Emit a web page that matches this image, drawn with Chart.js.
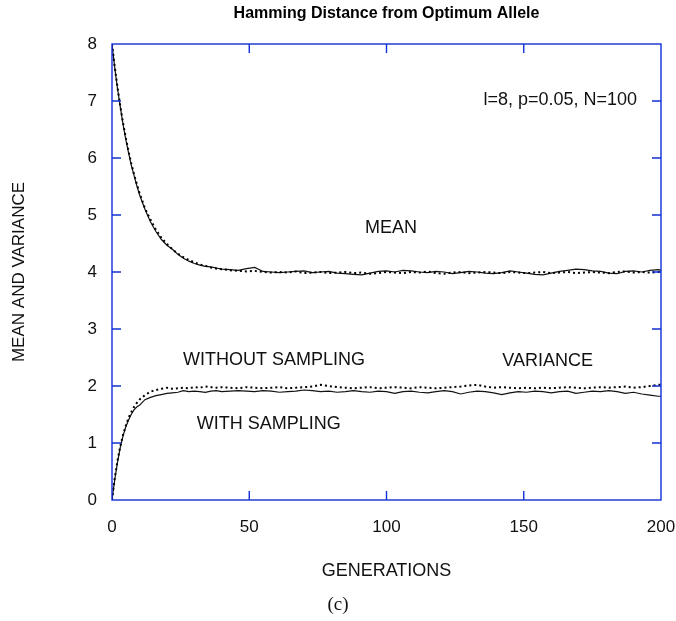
<!DOCTYPE html>
<html>
<head>
<meta charset="utf-8">
<script src="https://cdn.jsdelivr.net/npm/chart.js@4.4.1/dist/chart.umd.min.js"></script>
<style>
  html, body { margin: 0; padding: 0; background: #fff; }
</style>
</head>
<body>
<canvas id="myChart" width="676" height="621"></canvas>
<script>
// generations (x values), denser at the start where the curves move fast
const generations = [0,1,2,3,4,5,6,7,8,9,10,12,14,16,18,20,22,24,26,28,30,32,34,36,38,40,
  43,46,49,52,55,58,61,64,67,70,73,76,79,82,85,88,91,94,97,100,103,106,109,112,115,118,121,124,
  127,130,133,136,139,142,145,148,151,154,157,160,163,166,169,172,175,178,181,184,187,190,193,196,199,200];

// mean, without sampling (dotted)
const meanNoSampling = [8.00,7.60,7.24,6.92,6.62,6.36,6.12,5.91,5.72,5.55,5.39,5.12,4.92,4.74,4.60,4.49,4.40,4.32,4.26,4.21,4.17,4.13,4.11,4.08,4.06,4.05,
  4.03,4.02,4.01,4.02,4.00,3.99,4.00,3.99,4.01,3.98,3.99,4.00,3.98,3.99,4.00,3.98,3.99,3.97,3.98,4.00,3.99,3.98,4.00,3.99,4.01,3.98,3.97,3.99,
  4.00,3.98,3.99,4.00,3.99,3.98,4.00,3.99,3.98,3.99,4.00,3.98,3.99,4.00,3.98,3.99,4.00,3.99,3.98,4.00,4.01,3.99,4.00,3.99,4.00,4.00];

// mean, with sampling (solid)
const meanSampling = [8.00,7.58,7.22,6.90,6.60,6.33,6.10,5.88,5.70,5.52,5.36,5.10,4.88,4.71,4.57,4.47,4.40,4.31,4.24,4.19,4.15,4.12,4.10,4.09,4.07,4.05,
  4.04,4.03,4.06,4.08,4.01,4.00,3.99,4.00,4.01,4.02,3.99,4.00,4.01,3.98,3.97,3.96,3.95,3.98,4.01,4.02,4.00,4.03,4.02,4.00,3.99,4.01,4.00,3.97,
  3.99,4.01,4.00,3.98,3.97,3.99,4.02,4.00,3.98,3.96,3.95,3.98,4.01,4.03,4.05,4.04,4.02,4.01,3.98,3.97,4.01,4.02,4.00,4.03,4.04,4.03];

// variance, without sampling (dotted)
const varNoSampling = [0.00,0.38,0.69,0.94,1.14,1.30,1.44,1.54,1.63,1.70,1.76,1.84,1.90,1.93,1.95,1.97,1.95,1.96,1.97,1.96,1.98,1.97,1.99,1.98,1.97,1.98,
  1.97,1.96,1.98,1.97,1.96,1.97,1.98,1.96,1.97,1.98,1.99,2.02,2.00,1.98,1.97,1.96,1.97,1.98,1.96,1.97,1.98,1.97,1.96,1.98,1.97,1.96,1.97,1.98,
  1.99,2.01,2.02,1.99,1.97,1.98,1.97,1.96,1.97,1.96,1.97,1.96,1.97,1.98,1.97,1.96,1.97,1.98,1.97,1.98,1.99,1.97,1.98,2.00,2.02,2.02];

// variance, with sampling (solid)
const varSampling = [0.00,0.36,0.66,0.92,1.12,1.28,1.40,1.50,1.58,1.63,1.66,1.76,1.80,1.83,1.85,1.87,1.88,1.89,1.92,1.90,1.91,1.90,1.89,1.91,1.92,1.90,
  1.91,1.92,1.91,1.90,1.92,1.91,1.89,1.90,1.91,1.93,1.92,1.90,1.91,1.89,1.90,1.92,1.90,1.89,1.91,1.90,1.87,1.90,1.91,1.89,1.88,1.90,1.92,1.90,
  1.86,1.89,1.91,1.90,1.88,1.85,1.88,1.90,1.89,1.91,1.90,1.88,1.90,1.91,1.87,1.89,1.91,1.90,1.92,1.90,1.87,1.89,1.86,1.84,1.82,1.82];

const xTicks = [0, 50, 100, 150, 200];
const yTicks = [0, 1, 2, 3, 4, 5, 6, 7, 8];

const sans = "'Liberation Sans', Arial, Helvetica, sans-serif";
const frameBlue = '#1230d4';

function toPoints(values) {
  return generations.map((g, i) => ({ x: g, y: values[i] }));
}

// text labels placed in data coordinates
const notes = [
  { text: 'l=8, p=0.05, N=100', x: 191.3, y: 7.02, align: 'right' },
  { text: 'MEAN', x: 101.6, y: 4.77, align: 'center' },
  { text: 'WITHOUT SAMPLING', x: 25.9, y: 2.45, align: 'left' },
  { text: 'VARIANCE', x: 158.7, y: 2.43, align: 'center' },
  { text: 'WITH SAMPLING', x: 57.1, y: 1.33, align: 'center' }
];

const frameAndNotes = {
  id: 'frameAndNotes',
  afterDraw(chart) {
    const { ctx, chartArea: a, scales: { x, y } } = chart;
    ctx.save();
    // blue box
    ctx.strokeStyle = frameBlue;
    ctx.lineWidth = 1.4;
    ctx.strokeRect(a.left, a.top, a.right - a.left, a.bottom - a.top);
    // inward ticks on all four sides
    const len = 9;
    ctx.beginPath();
    xTicks.slice(1, -1).forEach(v => {
      const px = x.getPixelForValue(v);
      ctx.moveTo(px, a.bottom); ctx.lineTo(px, a.bottom - len);
      ctx.moveTo(px, a.top); ctx.lineTo(px, a.top + len);
    });
    yTicks.slice(1, -1).forEach(v => {
      const py = y.getPixelForValue(v);
      ctx.moveTo(a.left, py); ctx.lineTo(a.left + len, py);
      ctx.moveTo(a.right, py); ctx.lineTo(a.right - len, py);
    });
    ctx.stroke();

    // title, centred over the plot box
    ctx.fillStyle = '#000';
    ctx.textBaseline = 'middle';
    ctx.textAlign = 'center';
    ctx.font = 'bold 16px ' + sans;
    ctx.fillText('Hamming Distance from Optimum Allele', (a.left + a.right) / 2, 14);

    // annotations
    ctx.fillStyle = '#111';
    ctx.font = '18px ' + sans;
    notes.forEach(n => {
      ctx.textAlign = n.align;
      ctx.fillText(n.text, x.getPixelForValue(n.x), y.getPixelForValue(n.y));
    });

    // figure caption
    ctx.font = "19px 'Liberation Serif', 'DejaVu Serif', serif";
    ctx.textAlign = 'center';
    ctx.fillText('(c)', 338, 605);
    ctx.restore();
  }
};

const ctx = document.getElementById('myChart').getContext('2d');

const myChart = new Chart(ctx, {
  type: 'line',
  data: {
    datasets: [
      {
        label: 'Mean without sampling',
        data: toPoints(meanNoSampling),
        borderColor: '#000',
        borderWidth: 2,
        borderDash: [2, 3],
        pointRadius: 0
      },
      {
        label: 'Mean with sampling',
        data: toPoints(meanSampling),
        borderColor: '#111',
        borderWidth: 1.2,
        pointRadius: 0
      },
      {
        label: 'Variance without sampling',
        data: toPoints(varNoSampling),
        borderColor: '#000',
        borderWidth: 2,
        borderDash: [2, 3],
        pointRadius: 0
      },
      {
        label: 'Variance with sampling',
        data: toPoints(varSampling),
        borderColor: '#111',
        borderWidth: 1.2,
        pointRadius: 0
      }
    ]
  },
  options: {
    responsive: false,
    animation: false,
    layout: { padding: { left: 0, right: 15, top: 44, bottom: 0 } },
    plugins: {
      legend: { display: false },
      tooltip: { enabled: false },
      title: { display: false }
    },
    scales: {
      x: {
        type: 'linear',
        min: 0,
        max: 200,
        afterFit: s => { s.height = 121; s.paddingLeft = 0; s.paddingRight = 0; },
        afterBuildTicks: s => { s.ticks = xTicks.map(v => ({ value: v })); },
        grid: { display: false, drawTicks: false },
        border: { display: false },
        ticks: { color: '#111', padding: 17, maxRotation: 0, font: { family: sans, size: 17 } },
        title: {
          display: true,
          text: 'GENERATIONS',
          color: '#111',
          font: { family: sans, size: 18 },
          padding: { top: 0, bottom: 39 }
        }
      },
      y: {
        min: 0,
        max: 8,
        afterFit: s => { s.width = 112; s.paddingTop = 0; s.paddingBottom = 0; },
        afterBuildTicks: s => { s.ticks = yTicks.map(v => ({ value: v })); },
        grid: { display: false, drawTicks: false },
        border: { display: false },
        ticks: { color: '#111', padding: 15, font: { family: sans, size: 17 } },
        title: {
          display: true,
          text: 'MEAN AND VARIANCE',
          color: '#111',
          font: { family: sans, size: 17 },
          padding: { top: 9, bottom: 0 }
        }
      }
    }
  },
  plugins: [frameAndNotes]
});
</script>
</body>
</html>
